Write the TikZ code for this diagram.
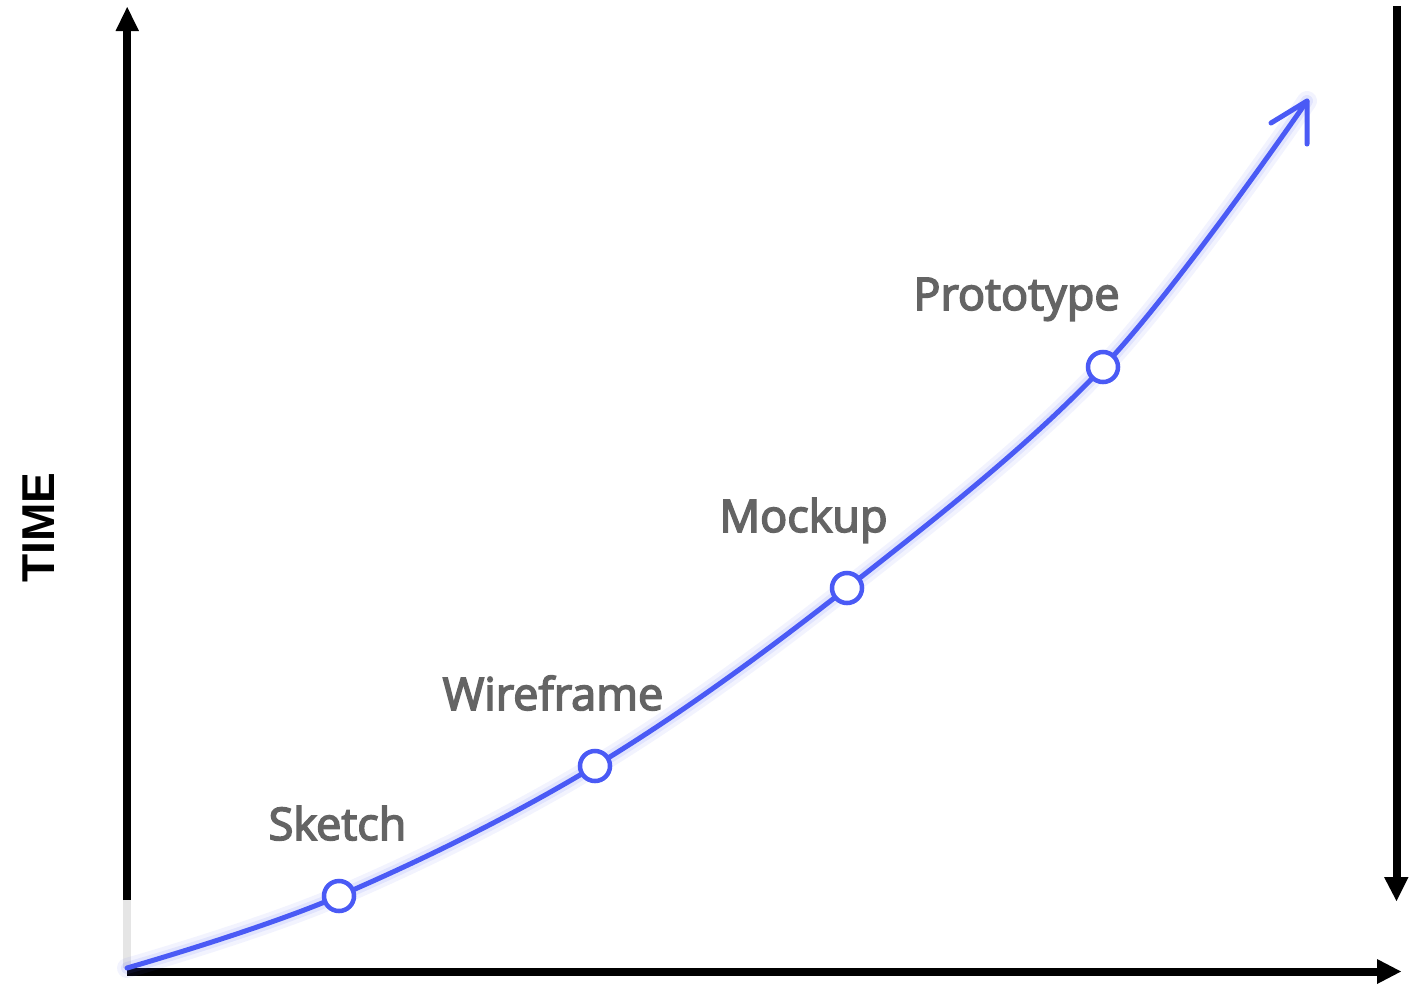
\documentclass[tikz,border=0pt]{standalone}
\usepackage{fontspec}
\setmainfont{Liberation Sans}
\newfontfamily\labfont{Open Sans}
\definecolor{curveblue}{RGB}{74,90,245}
\definecolor{labgray}{RGB}{100,100,100}
\newcommand{\heavytext}[1]{\special{pdf:code 2 Tr 0.45 w}#1\special{pdf:code 0 Tr}}
\tikzset{
  axisline/.style={line width=0.08cm, black},
  axishead/.style={fill=black, draw=none},
  stage/.style={circle, draw=curveblue, fill=white, line width=0.045cm, minimum size=0.3cm, inner sep=0pt},
  stagelabel/.style={font=\labfont\fontsize{12.8pt}{14pt}\selectfont, text=labgray, inner sep=0pt, anchor=base},
  curveline/.style={curveblue, line width=0.05cm, line cap=round, line join=round},
}
\begin{document}
\begin{tikzpicture}[x=0.01cm, y=-0.01cm]
\useasboundingbox (0,0) rectangle (1409,987);
% axes coordinates
\coordinate (ltop) at (127,31);
\coordinate (lbot) at (127,900);
\coordinate (lorig) at (127,968);
\coordinate (rtop) at (1396.5,6);
\coordinate (rbot) at (1396.5,878);
\coordinate (bstart) at (127,971.5);
\coordinate (bend) at (1378,971.5);
% left axis
\draw[gray!20, line width=0.07cm] (lbot) -- (lorig);
\draw[axisline] (lbot) -- (ltop);
\fill[axishead] (115.5,31) -- (139,31) -- (127.2,7) -- cycle;
% right axis
\draw[axisline] (rtop) -- (rbot);
\fill[axishead] (1384,877) -- (1408.5,877) -- (1396.5,901) -- cycle;
% bottom axis
\draw[axisline] (bstart) -- (bend);
\fill[axishead] (1377,959) -- (1377,984) -- (1401,971.5) -- cycle;
% TIME label
\node[rotate=90, inner sep=0pt, font=\bfseries\fontsize{13.1pt}{14pt}\selectfont] (time) at (38.5,527.5) {TIME};
% curve points
\coordinate (c0) at (127,968);
\coordinate (c1) at (339,896);
\coordinate (c2) at (595,766);
\coordinate (c3) at (847,588);
\coordinate (c4) at (1103,367);
\coordinate (tip) at (1307,101);
\coordinate (arm1) at (1271,123);
\coordinate (arm2) at (1307,144);
% glow
\begin{scope}[shift={(2,5)}]
\draw[curveblue, opacity=0.07, line width=0.2cm, line cap=round] plot[smooth, tension=0.6] coordinates {(c0) (c1) (c2) (c3) (c4) (tip)};
\draw[curveblue, opacity=0.10, line width=0.12cm, line cap=round] plot[smooth, tension=0.6] coordinates {(c0) (c1) (c2) (c3) (c4) (tip)};
\end{scope}
% curve
\draw[curveline] plot[smooth, tension=0.6] coordinates {(c0) (c1) (c2) (c3) (c4) (tip)};
\draw[curveline] (arm1) -- (tip) -- (arm2);
% stages
\node[stage] (sketch) at (c1) {};
\node[stage] (wire) at (c2) {};
\node[stage] (mock) at (c3) {};
\node[stage] (proto) at (c4) {};
% labels
\node[stagelabel] (lsketch) at (337.5,840) {\heavytext{Sketch}};
\node[stagelabel] (lwire) at (553,710) {\heavytext{Wireframe}};
\node[stagelabel] (lmock) at (803.5,532) {\heavytext{Mockup}};
\node[stagelabel] (lproto) at (1016.5,310) {\heavytext{Prototype}};
\end{tikzpicture}
\end{document}
